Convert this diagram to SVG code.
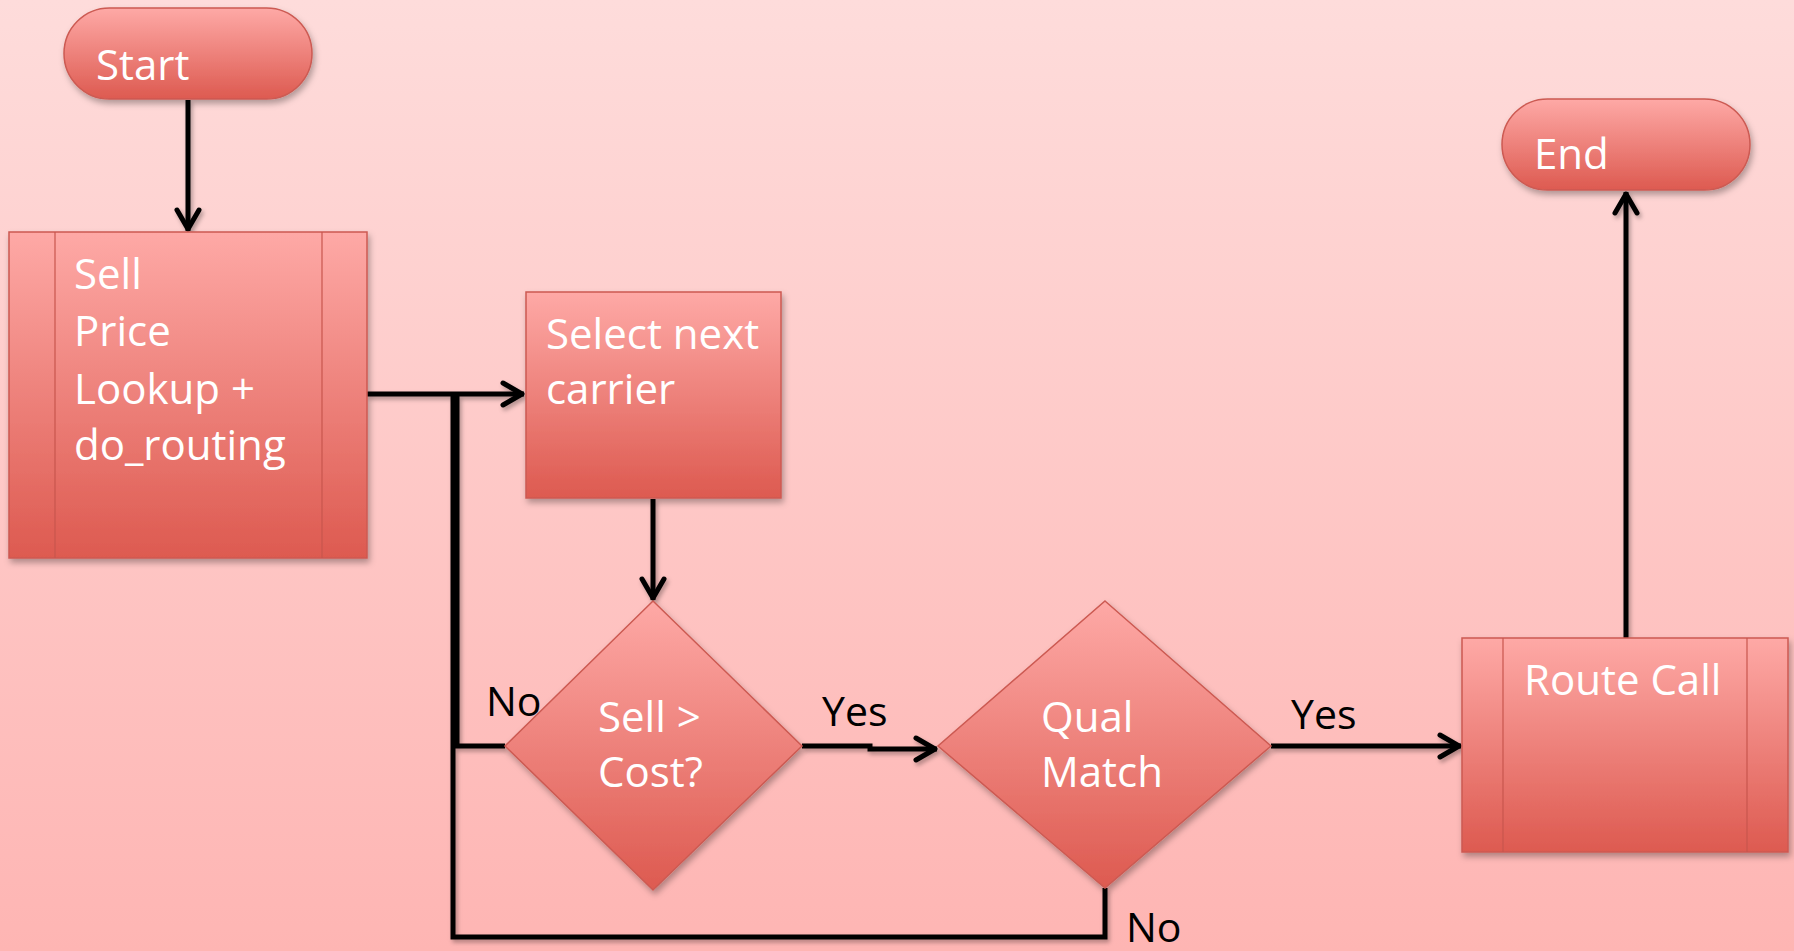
<svg xmlns="http://www.w3.org/2000/svg" width="1794" height="951" viewBox="0 0 1794 951">
  <defs>
    <linearGradient id="bg" x1="0" y1="0" x2="0" y2="1">
      <stop offset="0" stop-color="#fedcdb"/>
      <stop offset="1" stop-color="#feb5b3"/>
    </linearGradient>
    <linearGradient id="nodeFill" x1="0" y1="0" x2="0" y2="1">
      <stop offset="0" stop-color="#fea9a6"/>
      <stop offset="1" stop-color="#dd5a50"/>
    </linearGradient>
    <filter id="shadow" x="-10%" y="-10%" width="130%" height="130%">
      <feDropShadow dx="2" dy="4" stdDeviation="3" flood-color="#000" flood-opacity="0.3"/>
    </filter>
    <filter id="lineShadow" x="-5%" y="-5%" width="110%" height="110%">
      <feDropShadow dx="2" dy="3" stdDeviation="2" flood-color="#000" flood-opacity="0.3"/>
    </filter>
    <marker id="arrow" viewBox="0 0 30 30" markerUnits="userSpaceOnUse" markerWidth="30" markerHeight="30" refX="25" refY="15" orient="auto">
      <path d="M4,4 L23,15 L4,26" fill="none" stroke="#000" stroke-width="5" stroke-linecap="round" stroke-linejoin="round"/>
    </marker>
    <style>
      .node { fill: url(#nodeFill); stroke: #cc5a52; stroke-width: 1.5; filter: url(#shadow); }
      .inner { stroke: #c8564e; stroke-width: 1.2; fill: none; }
      .wt { font-family: "Open Sans", "Liberation Sans", sans-serif; font-size: 42px; fill: #ffffff; }
      .bt { font-family: "Open Sans", "Liberation Sans", sans-serif; font-size: 41px; fill: #000000; }
      .conn { fill: none; stroke: #000; stroke-width: 5; stroke-linejoin: miter; }
    </style>
  </defs>

  <rect x="0" y="0" width="1794" height="951" fill="url(#bg)"/>

  <g id="connectors" filter="url(#lineShadow)">
    <path class="conn" d="M188,100 L188,231" marker-end="url(#arrow)"/>
    <path class="conn" d="M367,394 L524,394" marker-end="url(#arrow)"/>
    <path class="conn" d="M653,499 L653,600" marker-end="url(#arrow)"/>
    <path class="conn" d="M802,746 L870,746 L870,749 L937,749" marker-end="url(#arrow)"/>
    <path class="conn" d="M1271,746 L1461,746" marker-end="url(#arrow)"/>
    <path class="conn" d="M1626,638 L1626,192" marker-end="url(#arrow)"/>
    <path class="conn" d="M505,746 L457,746 L457,394"/>
    <path class="conn" d="M1105,888 L1105,937 L453,937 L453,394"/>
  </g>

  <g id="start">
    <rect class="node" x="64" y="8" width="248" height="91" rx="45.5" ry="45.5"/>
    <text class="wt" x="96" y="80">Start</text>
  </g>

  <g id="sell-price-lookup">
    <rect class="node" x="9" y="232" width="358" height="326"/>
    <line class="inner" x1="55" y1="232" x2="55" y2="558"/>
    <line class="inner" x1="322" y1="232" x2="322" y2="558"/>
    <text class="wt" x="74" y="289">Sell</text>
    <text class="wt" x="74" y="346">Price</text>
    <text class="wt" x="74" y="404">Lookup +</text>
    <text class="wt" x="74" y="460">do_routing</text>
  </g>

  <g id="select-next-carrier">
    <rect class="node" x="526" y="292" width="255" height="206"/>
    <text class="wt" x="546" y="349">Select next</text>
    <text class="wt" x="546" y="404">carrier</text>
  </g>

  <g id="sell-gt-cost">
    <polygon class="node" points="653,601 802,746 653,890 505,746"/>
    <text class="wt" x="598" y="732">Sell &gt;</text>
    <text class="wt" x="598" y="787">Cost?</text>
  </g>

  <g id="qual-match">
    <polygon class="node" points="1105,601 1271,746 1105,888 938,746"/>
    <text class="wt" x="1041" y="732">Qual</text>
    <text class="wt" x="1041" y="787">Match</text>
  </g>

  <g id="route-call">
    <rect class="node" x="1462" y="638" width="326" height="214"/>
    <line class="inner" x1="1503" y1="638" x2="1503" y2="852"/>
    <line class="inner" x1="1747" y1="638" x2="1747" y2="852"/>
    <text class="wt" x="1524" y="695">Route Call</text>
  </g>

  <g id="end">
    <rect class="node" x="1502" y="99" width="248" height="91" rx="45.5" ry="45.5"/>
    <text class="wt" x="1534" y="169">End</text>
  </g>

  <g id="labels">
    <text class="bt" x="486" y="716">No</text>
    <text class="bt" x="822" y="726">Yes</text>
    <text class="bt" x="1291" y="729">Yes</text>
    <text class="bt" x="1126" y="942">No</text>
  </g>
</svg>
